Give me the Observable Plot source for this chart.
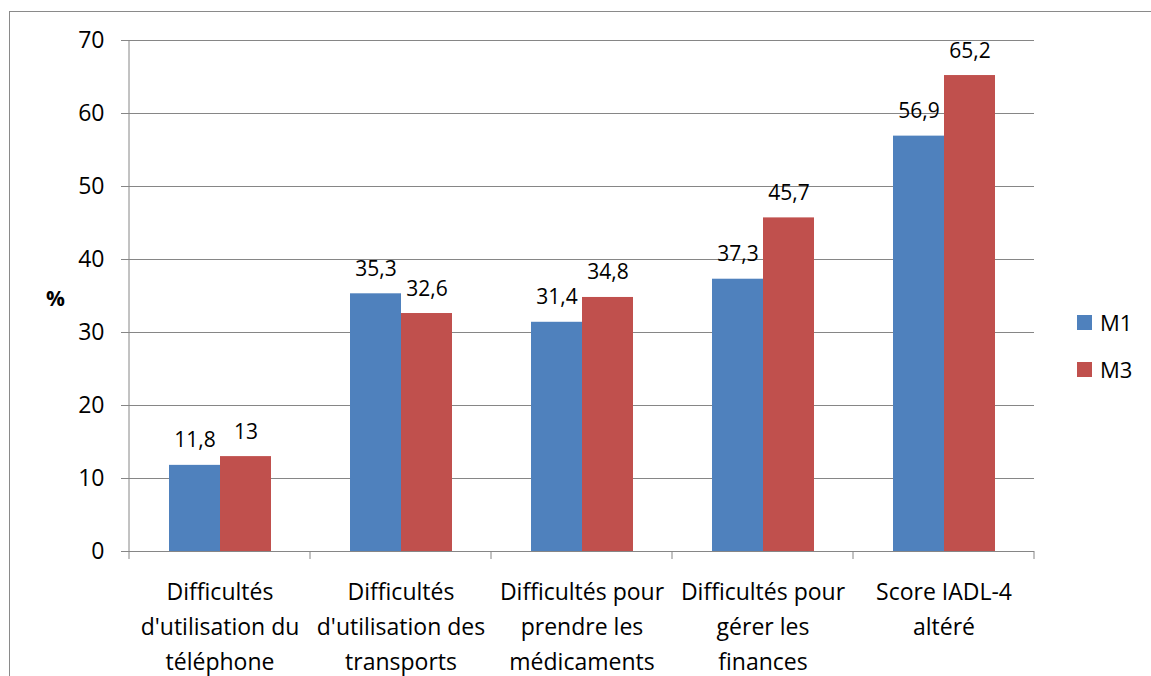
<!DOCTYPE html>
<html>
<head>
<meta charset="utf-8">
<script src="https://cdn.jsdelivr.net/npm/d3@7"></script>
<script src="https://cdn.jsdelivr.net/npm/@observablehq/plot@0.6"></script>
<style>
  html, body { margin: 0; padding: 0; background: #fff; }
  body { width: 1151px; height: 676px; overflow: hidden; position: relative; font-family: "Open Sans", "Noto Sans", sans-serif; }
  #frame { position: absolute; left: 9px; top: 11px; width: 1300px; height: 800px; border: 1px solid #8a8a8a; box-sizing: border-box; }
  #chart { position: absolute; left: 0; top: 0; }
  #ylabel { position: absolute; left: 46px; top: 284px; font-weight: bold; font-size: 21px; color: #000; }
  .leg { position: absolute; left: 1077px; display: flex; align-items: center; font-size: 22px; color: #000; }
  .leg span.sw { display: inline-block; width: 15px; height: 15px; margin-right: 8px; }
</style>
</head>
<body>
<div id="frame"></div>
<div id="chart"></div>
<div id="ylabel">%</div>
<div id="legend"></div>
<script>
const categories = [
  "Difficultés\nd'utilisation du\ntéléphone",
  "Difficultés\nd'utilisation des\ntransports",
  "Difficultés pour\nprendre les\nmédicaments",
  "Difficultés pour\ngérer les\nfinances",
  "Score IADL-4\naltéré"
];
const series = ["M1", "M3"];
const m1 = [11.8, 35.3, 31.4, 37.3, 56.9];
const m3 = [13, 32.6, 34.8, 45.7, 65.2];
const yTicks = [0, 10, 20, 30, 40, 50, 60, 70];
const colors = ["#4F81BD", "#C0504D"];

const table = [];
categories.forEach((c, i) => {
  table.push({cat: c, series: "M1", value: m1[i]});
  table.push({cat: c, series: "M3", value: m3[i]});
});
const fmt = v => String(v).replace(".", ",");
const gray = "#868686";

const chart = Plot.plot({
  width: 1151,
  height: 676,
  marginLeft: 129,
  marginRight: 117,
  marginTop: 40,
  marginBottom: 125,
  style: {fontFamily: "'Open Sans', 'Noto Sans', sans-serif", color: "#000", background: "transparent"},
  fx: {domain: categories, padding: 0, label: null},
  x: {domain: series, paddingInner: 0, paddingOuter: 0.757, axis: null},
  y: {domain: [0, 70], label: null},
  color: {domain: series, range: colors},
  marks: [
    Plot.ruleY(yTicks, {stroke: gray, strokeWidth: 1}),
    Plot.barY(table, {fx: "cat", x: "series", y: "value", fill: "series"}),
    Plot.text(table, {fx: "cat", x: "series", y: "value", text: d => fmt(d.value), lineAnchor: "bottom", dy: -18, fontSize: 21, fill: "#000"}),
    Plot.axisY({ticks: yTicks, tickFormat: d => d, tickSize: 8, tickPadding: 17, fontSize: 23, stroke: gray, fill: "#000", label: null}),
    Plot.axisFx({anchor: "bottom", tickSize: 0, tickPadding: 24, lineHeight: 1.52, fontSize: 23, fill: "#000", label: null})
  ]
});
document.getElementById("chart").appendChild(chart);

// category boundary ticks and left axis line from Plot's own scales
const fx = chart.scale("fx");
const ys = chart.scale("y");
const svg = d3.select(chart);
const y0 = ys.apply(0), yTop = ys.apply(70);
const edges = categories.map(c => fx.apply(c));
edges.push(fx.apply(categories[categories.length - 1]) + fx.bandwidth);
const g = svg.append("g").attr("stroke", gray).attr("stroke-width", 1);
g.append("line").attr("x1", edges[0]).attr("x2", edges[0]).attr("y1", yTop).attr("y2", y0);
edges.forEach(x => g.append("line").attr("x1", x).attr("x2", x).attr("y1", y0).attr("y2", y0 + 8));

// legend
const legend = document.getElementById("legend");
const legTops = [322, 369];
series.forEach((s, i) => {
  const d = document.createElement("div");
  d.className = "leg";
  d.style.top = (legTops[i] - 13) + "px";
  d.style.height = "26px";
  d.innerHTML = `<span class="sw" style="background:${colors[i]}"></span><span>${s}</span>`;
  legend.appendChild(d);
});
</script>
</body>
</html>
